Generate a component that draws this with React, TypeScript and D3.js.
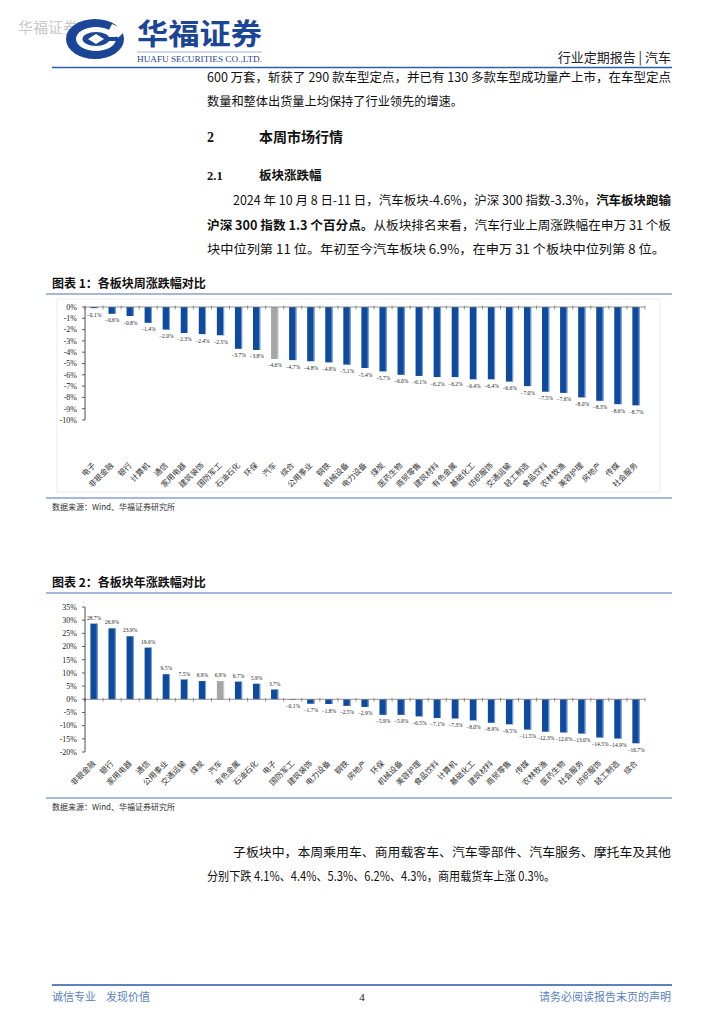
import React from 'react';
import * as d3 from 'd3';

const weeklyCategories = ['电子','非银金融','银行','计算机','通信','家用电器','建筑装饰','国防军工','石油石化','环保','汽车','综合','公用事业','钢铁','机械设备','电力设备','煤炭','医药生物','商贸零售','建筑材料','有色金属','基础化工','纺织服饰','交通运输','轻工制造','食品饮料','农林牧渔','美容护理','房地产','传媒','社会服务'];
const weeklyValues = [-0.1,-0.6,-0.8,-1.4,-2.0,-2.3,-2.4,-2.5,-3.7,-3.8,-4.6,-4.7,-4.8,-4.9,-5.1,-5.4,-5.7,-6.0,-6.1,-6.2,-6.2,-6.4,-6.4,-6.6,-7.0,-7.5,-7.6,-8.0,-8.3,-8.6,-8.7];
const weeklyTicks = [0,-1,-2,-3,-4,-5,-6,-7,-8,-9,-10];

const ytdCategories = ['非银金融','银行','家用电器','通信','公用事业','交通运输','煤炭','汽车','有色金属','石油石化','电子','国防军工','建筑装饰','电力设备','钢铁','房地产','环保','机械设备','美容护理','食品饮料','计算机','基础化工','建筑材料','商贸零售','传媒','农林牧渔','医药生物','社会服务','纺织服饰','轻工制造','综合'];
const ytdValues = [28.7,26.9,23.9,19.6,9.5,7.5,6.9,6.9,6.7,5.9,3.7,-0.1,-1.7,-1.8,-2.5,-2.9,-5.9,-5.9,-6.5,-7.1,-7.3,-8.0,-8.9,-9.5,-11.5,-12.3,-12.6,-13.0,-14.5,-14.9,-16.7];
const ytdTicks = [35,30,25,20,15,10,5,0,-5,-10,-15,-20];

const highlightCategory = '汽车';

const CJK = '"Noto Sans CJK SC", "Noto Sans", sans-serif';
const SERIF = '"Liberation Serif", "DejaVu Serif", serif';
const BLUE = '#0E4A9E';
const EDGE = '#7FA7DA';
const GRAY = '#A6A6A6';
const LINE_BLUE = '#4A72B8';

type ChartProps = {
  cats: string[];
  vals: number[];
  ticks: number[];
  domain: [number, number];
  yBottom: number;
  yTop: number;
  labelY: number;
};

function BarChart({ cats, vals, ticks, domain, yBottom, yTop, labelY }: ChartProps) {
  const X0 = 85, X1 = 645;
  const x = d3.scaleBand<string>().domain(cats).range([X0, X1]).paddingInner(0.6).paddingOuter(0.3);
  const y = d3.scaleLinear().domain(domain).range([yBottom, yTop]);
  const y0 = y(0);
  const step = x.step();
  const bw = x.bandwidth();
  const fmt = d3.format('.1f');
  return (
    <g>
      {cats.map((c, i) => {
        const v = vals[i];
        const bx = x(c)!;
        const top = v >= 0 ? y(v) : y0;
        const h = Math.abs(y(v) - y0);
        const fill = c === highlightCategory ? GRAY : BLUE;
        const edge = c === highlightCategory ? '#C8C8C8' : EDGE;
        const cx = bx + bw / 2;
        const ly = v >= 0 ? y(v) - 4 : y(v) + 8.5;
        return (
          <g key={c}>
            <rect x={bx} y={top} width={bw} height={Math.max(h, 0.6)} fill={fill} />
            <rect x={bx + bw - 1} y={top} width={1} height={Math.max(h, 0.6)} fill={edge} />
            <text x={cx} y={ly} fontSize={5.5} fontFamily={SERIF} textAnchor="middle" fill="#222">{fmt(v) + '%'}</text>
          </g>
        );
      })}
      <line x1={X0} x2={X1} y1={y0} y2={y0} stroke="#7a7a7a" strokeWidth={0.8} />
      {d3.range(cats.length + 1).map(i => (
        <line key={'t' + i} x1={X0 + i * step} x2={X0 + i * step} y1={y0 - 1.5} y2={y0 + 2.5} stroke="#555" strokeWidth={0.6} />
      ))}
      <line x1={X0} x2={X0} y1={y(domain[1])} y2={y(domain[0])} stroke="#222" strokeWidth={0.8} />
      {ticks.map(t => (
        <g key={'y' + t}>
          <line x1={X0 - 3} x2={X0} y1={y(t)} y2={y(t)} stroke="#222" strokeWidth={0.7} />
          <text x={77} y={y(t) + 2.8} fontSize={8} fontFamily={SERIF} textAnchor="end" fill="#222">{t + '%'}</text>
        </g>
      ))}
      {cats.map(c => {
        const cx = x(c)! + bw / 2 + 2;
        return (
          <text key={'l' + c} x={cx} y={labelY} fontSize={7.8} fontFamily={CJK} textAnchor="end" fill="#333"
            transform={`rotate(-45 ${cx} ${labelY})`}>{c}</text>
        );
      })}
    </g>
  );
}

function Logo() {
  return (
    <g>
      <ellipse cx={95} cy={39} rx={29} ry={20} fill="#1B4596" />
      <ellipse cx={96} cy={39} rx={20} ry={12} fill="#fff" />
      <ellipse cx={96} cy={39} rx={13.5} ry={7} fill="#1B4596" />
      <path d="M 96 34 L 104 39 L 96 44 L 88 39 Z" fill="#fff" />
      <path d="M 112 24 L 126 30 L 118 38 L 108 32 Z" fill="#fff" />
      <rect x={104} y={37} width={14} height={4} fill="#1B4596" />
    </g>
  );
}

export default function App() {
  const body = { fontFamily: CJK, fontSize: 12.5, fill: '#111' } as const;
  return (
    <svg width={724} height={1024} viewBox="0 0 724 1024" style={{ position: 'absolute', left: 0, top: 0, background: '#fff' }}>
      <rect x={0} y={0} width={724} height={1024} fill="#fff" />
      <text x={18} y={33} fontSize={15} fontFamily={CJK} fill="#c9c9c9">华福证券</text>
      <Logo />
      <text x={137} y={45} fontSize={29} fontWeight={700} fontFamily={CJK} fill="#1B4596" textLength={125} lengthAdjust="spacingAndGlyphs">华福证券</text>
      <line x1={137} x2={262} y1={52} y2={52} stroke="#8a9cc4" strokeWidth={0.8} />
      <text x={137} y={62} fontSize={8} fontFamily={SERIF} fill="#1B4596" textLength={125} lengthAdjust="spacingAndGlyphs">HUAFU SECURITIES CO.,LTD.</text>
      <text x={671} y={62} fontSize={13} fontFamily={CJK} fill="#222" textAnchor="end">行业定期报告 | 汽车</text>
      <line x1={52} x2={672} y1={67.5} y2={67.5} stroke="#2F5BA8" strokeWidth={1.5} />

      <text x={207} y={82} {...body} textLength={464} lengthAdjust="spacingAndGlyphs">600 万套，斩获了 290 款车型定点，并已有 130 多款车型成功量产上市，在车型定点</text>
      <text x={207} y={106} {...body} textLength={256} lengthAdjust="spacingAndGlyphs">数量和整体出货量上均保持了行业领先的增速。</text>

      <text x={207} y={142} fontSize={14} fontWeight={700} fontFamily={SERIF} fill="#111">2</text>
      <text x={259} y={142} fontSize={14} fontWeight={700} fontFamily={CJK} fill="#111">本周市场行情</text>
      <text x={207} y={180} fontSize={12.5} fontWeight={700} fontFamily={SERIF} fill="#111">2.1</text>
      <text x={259} y={180} fontSize={12.5} fontWeight={700} fontFamily={CJK} fill="#111">板块涨跌幅</text>

      <text x={233} y={205} {...body} textLength={438} lengthAdjust="spacingAndGlyphs">
        <tspan>2024 年 10 月 8 日-11 日，汽车板块-4.6%，沪深 300 指数-3.3%，</tspan>
        <tspan fontWeight={700}>汽车板块跑输</tspan>
      </text>
      <text x={207} y={230} {...body} textLength={464} lengthAdjust="spacingAndGlyphs">
        <tspan fontWeight={700}>沪深 300 指数 1.3 个百分点。</tspan>
        <tspan>从板块排名来看，汽车行业上周涨跌幅在申万 31 个板</tspan>
      </text>
      <text x={207} y={254} {...body} textLength={458} lengthAdjust="spacingAndGlyphs">块中位列第 11 位。年初至今汽车板块 6.9%，在申万 31 个板块中位列第 8 位。</text>

      <text x={52} y={288} fontSize={12} fontWeight={700} fontFamily={CJK} fill="#111">图表 1：各板块周涨跌幅对比</text>
      <line x1={46} x2={672} y1={294} y2={294} stroke={LINE_BLUE} strokeWidth={1.2} />
      <rect x={57} y={299} width={603} height={193} fill="none" stroke="#e2e2e2" strokeWidth={0.6} />
      <BarChart cats={weeklyCategories} vals={weeklyValues} ticks={weeklyTicks} domain={[-10, 0]} yBottom={420} yTop={307} labelY={466} />
      <line x1={46} x2={672} y1={498} y2={498} stroke={LINE_BLUE} strokeWidth={1.2} />
      <text x={52} y={510} fontSize={8} fontFamily={CJK} fill="#333">数据来源：Wind、华福证券研究所</text>

      <text x={52} y={587} fontSize={12} fontWeight={700} fontFamily={CJK} fill="#111">图表 2：各板块年涨跌幅对比</text>
      <line x1={46} x2={672} y1={593} y2={593} stroke={LINE_BLUE} strokeWidth={1.2} />
      <BarChart cats={ytdCategories} vals={ytdValues} ticks={ytdTicks} domain={[-20, 35]} yBottom={752} yTop={607} labelY={764} />
      <line x1={46} x2={672} y1={798} y2={798} stroke={LINE_BLUE} strokeWidth={1.2} />
      <text x={52} y={810} fontSize={8} fontFamily={CJK} fill="#333">数据来源：Wind、华福证券研究所</text>

      <text x={233} y={857} {...body} textLength={438} lengthAdjust="spacingAndGlyphs">子板块中，本周乘用车、商用载客车、汽车零部件、汽车服务、摩托车及其他</text>
      <text x={207} y={881} {...body} textLength={348} lengthAdjust="spacingAndGlyphs">分别下跌 4.1%、4.4%、5.3%、6.2%、4.3%，商用载货车上涨 0.3%。</text>

      <line x1={52} x2={672} y1={985} y2={985} stroke="#2B56A8" strokeWidth={1.5} />
      <text x={52} y={1001} fontSize={11} fontFamily={CJK} fill="#5B7FC0">诚信专业</text>
      <text x={106} y={1001} fontSize={11} fontFamily={CJK} fill="#5B7FC0">发现价值</text>
      <text x={362} y={1001} fontSize={11} fontFamily={SERIF} fill="#111" textAnchor="middle">4</text>
      <text x={671} y={1001} fontSize={11} fontFamily={CJK} fill="#5B7FC0" textAnchor="end">请务必阅读报告末页的声明</text>
    </svg>
  );
}
